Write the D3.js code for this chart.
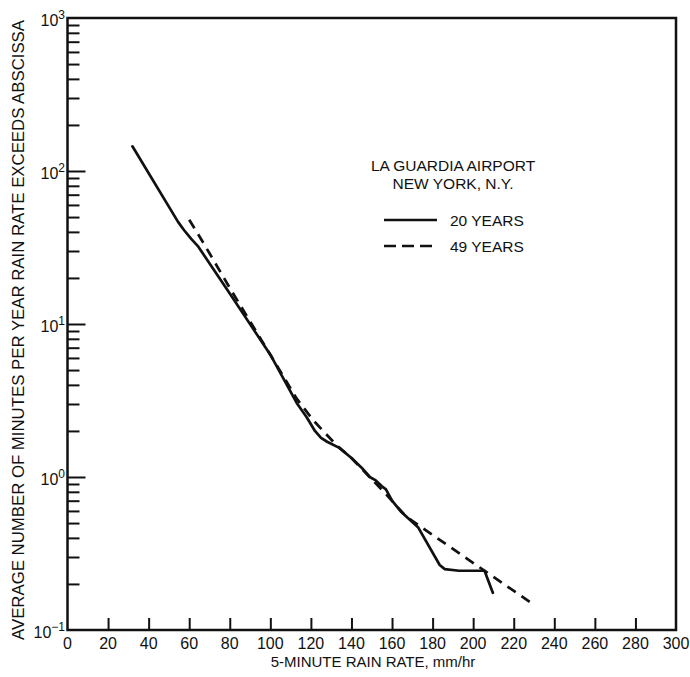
<!DOCTYPE html>
<html>
<head>
<meta charset="utf-8">
<script src="https://cdn.jsdelivr.net/npm/d3@7"></script>
<style>
  html, body { margin: 0; padding: 0; background: #fff; }
  svg { display: block; }
  text { font-family: "Liberation Sans", Arial, Helvetica, sans-serif; fill: #111; }
  .ticklabel { font-family: "Liberation Sans Narrow", "Arial Narrow", "Liberation Sans", sans-serif; }
</style>
</head>
<body>
<svg id="chart" width="690" height="677"></svg>
<script>
// 5-minute rain rate (mm/hr) vs. average minutes per year the rate is exceeded
const rate20 = [32, 54.5, 57.5, 61, 64.5, 80, 100, 113, 118, 122, 125, 128, 134, 140, 145, 149, 152, 155, 157, 160, 164.6, 172.8, 183.5, 186, 193, 205.6, 209.7];
const minutes20 = [145, 46.5, 41, 36, 32, 15.8, 6.3, 3.05, 2.45, 2.0, 1.8, 1.7, 1.55, 1.33, 1.15, 1.0, 0.95, 0.87, 0.83, 0.7, 0.59, 0.47, 0.266, 0.25, 0.244, 0.244, 0.175];

const rate49 = [60, 65, 70, 80, 100, 113, 121, 132.5, 140, 149, 156, 167, 230];
const minutes49 = [48, 37.5, 29, 17.2, 6.3, 3.25, 2.36, 1.62, 1.33, 1.0, 0.8, 0.55, 0.146];

const xTicks = [0, 20, 40, 60, 80, 100, 120, 140, 160, 180, 200, 220, 240, 260, 280, 300];
const yDecades = [-1, 0, 1, 2, 3];

const seriesNames = ["20 YEARS", "49 YEARS"];
const titleLines = ["LA GUARDIA AIRPORT", "NEW YORK, N.Y."];

const svg = d3.select("#chart");
const plotLeft = 67.5, plotRight = 676, plotTop = 18, plotBottom = 630;

const x = d3.scaleLinear().domain([0, 300]).range([plotLeft, plotRight]);
const y = d3.scaleLog().domain([0.1, 1000]).range([plotBottom, plotTop]);

// minor ticks (2..9 in each decade) and major decade ticks on the left axis
const minorVals = [];
for (let d = -1; d < 3; d++) {
  for (let m = 2; m <= 9; m++) minorVals.push(m * Math.pow(10, d));
}
const majorVals = [1, 10, 100];

const yMinor = d3.axisRight(y).tickValues(minorVals).tickSize(12).tickFormat("");
const yMajor = d3.axisRight(y).tickValues(majorVals).tickSize(18).tickFormat("");

const gMinor = svg.append("g").attr("transform", `translate(${plotLeft},0)`).call(yMinor);
const gMajor = svg.append("g").attr("transform", `translate(${plotLeft},0)`).call(yMajor);
[gMinor, gMajor].forEach(g => {
  g.select(".domain").remove();
  g.selectAll("line").attr("stroke", "#111").attr("stroke-width", 2);
});

// x ticks point up from the bottom axis
const xAxis = d3.axisTop(x).tickValues(xTicks.slice(1, -1)).tickSize(12).tickFormat("");
const gx = svg.append("g").attr("transform", `translate(0,${plotBottom})`).call(xAxis);
gx.select(".domain").remove();
gx.selectAll("line").attr("stroke", "#111").attr("stroke-width", 2);

// x tick labels
svg.append("g").selectAll("text")
  .data(xTicks)
  .join("text")
  .attr("class", "ticklabel")
  .attr("x", d => x(d))
  .attr("y", plotBottom + 19)
  .attr("text-anchor", "middle")
  .attr("font-size", 16)
  .text(d => d);

// y tick labels with superscript exponents
const yl = svg.append("g").selectAll("text")
  .data(yDecades)
  .join("text")
  .attr("class", "ticklabel")
  .attr("x", 65)
  .attr("y", d => y(Math.pow(10, d)) + 8)
  .attr("text-anchor", "end")
  .attr("font-size", 16);
yl.append("tspan").text("10");
yl.append("tspan")
  .attr("font-size", 12)
  .attr("dy", -7)
  .text(d => d < 0 ? "\u22121" : String(d));

// frame
svg.append("rect")
  .attr("x", plotLeft).attr("y", plotTop)
  .attr("width", plotRight - plotLeft).attr("height", plotBottom - plotTop)
  .attr("fill", "none").attr("stroke", "#111").attr("stroke-width", 2.5);

// curves
const lineGen = d3.line().x(d => x(d[0])).y(d => y(d[1])).curve(d3.curveLinear);

svg.append("path")
  .datum(d3.zip(rate20, minutes20))
  .attr("d", lineGen)
  .attr("fill", "none").attr("stroke", "#111").attr("stroke-width", 2.7)
  .attr("stroke-linejoin", "round").attr("stroke-linecap", "round");

svg.append("path")
  .datum(d3.zip(rate49, minutes49))
  .attr("d", lineGen)
  .attr("fill", "none").attr("stroke", "#111").attr("stroke-width", 2.7)
  .attr("stroke-dasharray", "10,7")
  .attr("stroke-linejoin", "round");

// legend
const lg = svg.append("g");
lg.selectAll("text.title")
  .data(titleLines)
  .join("text")
  .attr("class", "title")
  .attr("x", 453)
  .attr("y", (d, i) => 171 + i * 18)
  .attr("text-anchor", "middle")
  .attr("font-size", 15.5)
  .text(d => d);

seriesNames.forEach((name, i) => {
  const yy = 220 + i * 26;
  lg.append("line")
    .attr("x1", 384).attr("x2", 437)
    .attr("y1", yy).attr("y2", yy)
    .attr("stroke", "#111").attr("stroke-width", 2.7)
    .attr("stroke-dasharray", i === 1 ? "12,6" : null);
  lg.append("text")
    .attr("x", 450).attr("y", yy + 5.5)
    .attr("font-size", 15.5)
    .text(name);
});

// axis titles
svg.append("text")
  .attr("x", 373).attr("y", 667)
  .attr("text-anchor", "middle")
  .attr("font-size", 15)
  .text("5-MINUTE RAIN RATE, mm/hr");

svg.append("text")
  .attr("transform", "translate(24,330) rotate(-90)")
  .attr("text-anchor", "middle")
  .attr("font-size", 16)
  .attr("textLength", 620)
  .attr("lengthAdjust", "spacingAndGlyphs")
  .text("AVERAGE NUMBER OF MINUTES PER YEAR RAIN RATE EXCEEDS ABSCISSA");
</script>
</body>
</html>
